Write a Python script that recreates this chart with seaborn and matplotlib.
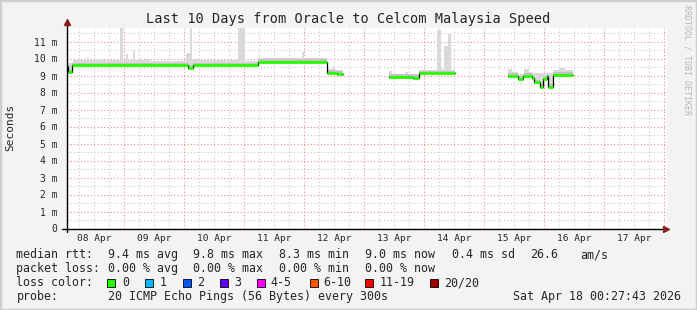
import numpy as np
import pandas as pd
import matplotlib
matplotlib.use("Agg")
import matplotlib.pyplot as plt
import seaborn as sns
from matplotlib.patches import Rectangle

# ---------------- data (time in days since 08 Apr 00:00, values in ms) -------------
seg_a_t = [0.02, 0.07, 0.14, 2.06, 2.145, 3.23, 4.39, 4.545, 4.65]
seg_a_v = [9.55, 9.18, 9.60, 9.47, 9.60, 9.82, 9.16, 9.08, 9.08]
seg_b_t = [5.417, 5.62, 5.70, 5.82, 5.92, 6.51]
seg_b_v = [8.92, 8.93, 8.91, 8.88, 9.13, 9.13]
seg_c_t = [7.395, 7.572, 7.65, 7.806, 7.839, 7.928, 7.983, 8.05, 8.072, 8.15, 8.489]
seg_c_v = [9.00, 8.79, 9.00, 8.85, 8.60, 8.35, 8.80, 8.97, 8.32, 9.03, 9.03]

smoke_a_t = [0.02, 0.145, 0.383, 0.417, 0.6, 0.667, 0.933, 0.983, 1.033, 1.067, 1.142,
             1.175, 1.35, 1.433, 2.033, 2.092, 2.133, 2.267, 2.9, 3.017, 3.233, 3.967,
             4.0, 4.383, 4.483, 4.517, 4.65]
smoke_a_top = [9.75, 9.90, 10.08, 9.92, 9.97, 9.90, 11.9, 9.92, 10.25, 9.92, 10.45,
               9.90, 9.97, 9.88, 10.35, 11.9, 9.97, 9.92, 11.9, 9.88, 10.05, 10.40,
               10.05, 9.38, 9.50, 9.32, 9.32]
smoke_b_t = [5.417, 5.467, 5.683, 5.733, 5.922, 6.1, 6.222, 6.278, 6.338, 6.405, 6.445, 6.51]
smoke_b_top = [9.28, 9.10, 9.22, 9.10, 9.30, 9.35, 11.69, 9.37, 10.76, 11.43, 9.32, 9.32]
smoke_c_t = [7.395, 7.462, 7.572, 7.667, 7.75, 7.817, 8.15, 8.267, 8.35, 8.489]
smoke_c_top = [9.39, 9.22, 9.08, 9.39, 9.22, 9.12, 9.32, 9.47, 9.35, 9.35]

day_labels = ["08 Apr", "09 Apr", "10 Apr", "11 Apr", "12 Apr",
              "13 Apr", "14 Apr", "15 Apr", "16 Apr", "17 Apr"]
y_ticks = list(range(0, 12))
y_labels = ["0"] + [f"{i} m" for i in range(1, 12)]

title = "Last 10 Days from Oracle to Celcom Malaysia Speed"
stats_rtt = ["median rtt:", "9.4 ms avg", "9.8 ms max", "8.3 ms min", "9.0 ms now",
             "0.4 ms sd", "26.6", "am/s"]
stats_loss = ["packet loss:", "0.00 % avg", "0.00 % max", "0.00 % min", "0.00 % now"]
loss_labels = ["0", "1", "2", "3", "4-5", "6-10", "11-19", "20/20"]
loss_colors = ["#26ff00", "#00b8ff", "#0059ff", "#5e00ff", "#ff00ff", "#ff5500",
               "#ff0000", "#a10000"]
probe_text = "20 ICMP Echo Pings (56 Bytes) every 300s"
date_text = "Sat Apr 18 00:27:43 2026"

segments = [(seg_a_t, seg_a_v, smoke_a_t, smoke_a_top),
            (seg_b_t, seg_b_v, smoke_b_t, smoke_b_top),
            (seg_c_t, seg_c_v, smoke_c_t, smoke_c_top)]

# ---------------- figure ----------------
W, H = 697, 310
sns.set_style("white")
plt.rcParams["font.family"] = ["DejaVu Sans Mono"]
fig = plt.figure(figsize=(W / 100, H / 100), dpi=100, facecolor="#f3f3f3")

def fx(x):
    return x / W

def fy(y):
    return 1 - y / H

ax_l, ax_r, ax_t, ax_b = 67, 667, 28, 228.5
ax = fig.add_axes([fx(ax_l), fy(ax_b), fx(ax_r) - fx(ax_l), fy(ax_t) - fy(ax_b)])
ax.set_facecolor("white")
x0, x1 = 0.05, 10.05
y0, y1 = 0, (ax_b - ax_t) / 17.0
ax.set_xlim(x0, x1)
ax.set_ylim(y0, y1)

# grid
dot = (0, (1, 2))
for v in np.arange(0.5, 12, 1.0):
    ax.axhline(v, color="#c8c8c8", lw=0.8, ls=dot, zorder=0)
for v in range(1, 12):
    ax.axhline(v, color="#f08c8c", lw=0.8, ls=dot, zorder=0)
for d in np.arange(0, 10.5, 0.25):
    if abs(d - round(d)) > 1e-6:
        ax.axvline(d, color="#c8c8c8", lw=0.8, ls=dot, zorder=0)
for d in range(1, 11):
    ax.axvline(d, color="#f08c8c", lw=0.8, ls=dot, zorder=0)

# smoke
for t, v, st, top in segments:
    grid = np.array(sorted(set(t) | set(st)))
    iv = np.clip(np.searchsorted(t, grid, side="right") - 1, 0, len(v) - 1)
    it = np.clip(np.searchsorted(st, grid, side="right") - 1, 0, len(top) - 1)
    med = np.array(v)[iv]
    tp = np.array(top)[it]
    ax.fill_between(grid, med - 0.03, np.maximum(tp, med), step="post",
                    color="#d9d9d9", lw=0, zorder=1)
    ax.fill_between(grid, med, np.minimum(np.maximum(tp, med), med + 0.16), step="post",
                    color="#c2c2c2", lw=0, zorder=1)

# median line: black steps + green horizontal pieces
rows = []
for k, (t, v, _, _) in enumerate(segments):
    for ti, vi in zip(t, v):
        rows.append({"seg": k, "t": ti, "v": vi})
df = pd.DataFrame(rows)
sns.lineplot(data=df, x="t", y="v", units="seg", estimator=None, sort=False,
             drawstyle="steps-post", color="black", lw=0.9, ax=ax, legend=False, zorder=3)
for t, v, _, _ in segments:
    ax.hlines(v[:-1], t[:-1], t[1:], color=loss_colors[0], lw=2.0, zorder=4)

# axes / ticks
for s in ax.spines.values():
    s.set_visible(False)
ax.set_yticks(y_ticks)
ax.set_yticklabels(y_labels, fontsize=7.0)
ax.set_xticks([i + 0.5 for i in range(10)])
ax.set_xticklabels(day_labels, fontsize=6.8)
ax.tick_params(axis="y", length=0, pad=7)
ax.tick_params(axis="x", length=0, pad=4)
ax.set_xlabel("")
ax.set_ylabel("")
fig.text(fx(10), fy(127), "Seconds", rotation=90, ha="center", va="center", fontsize=8)

# axis lines with arrows
fig.add_artist(plt.Line2D([fx(62), fx(664)], [fy(ax_b), fy(ax_b)], color="black", lw=1))
fig.add_artist(plt.Line2D([fx(ax_l), fx(ax_l)], [fy(ax_b + 3), fy(24)], color="black", lw=1))
fig.add_artist(plt.Line2D([fx(ax_l)], [fy(21.5)], marker="^", ms=5, color="#8b1a1a", lw=0))
fig.add_artist(plt.Line2D([fx(666)], [fy(ax_b)], marker=">", ms=5, color="#8b1a1a", lw=0))

# title & watermark
fig.text(fx(348), fy(19), title, ha="center", va="center", fontsize=9.8)
fig.text(fx(687), fy(60), "RRDTOOL / TOBI OETIKER", rotation=270, ha="center",
         va="center", fontsize=6, color="#b8b8b8")

# legend block
fs = 8.4
xs_rtt = [16.4, 107.6, 193.3, 279.1, 365.3, 451.6, 530.2, 580.0]
for s, x in zip(stats_rtt, xs_rtt):
    fig.text(fx(x), fy(254.5), s, ha="left", va="center", fontsize=fs)
for s, x in zip(stats_loss, xs_rtt[:5]):
    fig.text(fx(x), fy(268.5), s, ha="left", va="center", fontsize=fs)
fig.text(fx(16.4), fy(282.5), "loss color:", ha="left", va="center", fontsize=fs)
box_x = [107.3, 145.0, 182.7, 220.0, 256.7, 310.0, 365.3, 429.8]
lab_x = [122.7, 159.3, 196.7, 234.0, 270.7, 323.3, 380.0, 444.4]
for c, lab, bx, lx in zip(loss_colors, loss_labels, box_x, lab_x):
    fig.add_artist(Rectangle((fx(bx), fy(286.5)), 8 / W, 8 / H, facecolor=c,
                             edgecolor="black", lw=0.6, transform=fig.transFigure))
    fig.text(fx(lx), fy(282.5), lab, ha="left", va="center", fontsize=fs)
fig.text(fx(16.4), fy(296.5), "probe:", ha="left", va="center", fontsize=fs)
fig.text(fx(107.6), fy(296.5), probe_text, ha="left", va="center", fontsize=fs)
fig.text(fx(681), fy(296.5), date_text, ha="right", va="center", fontsize=fs)

# frame border
fig.add_artist(Rectangle((0, 0), 1, 1, transform=fig.transFigure, fill=False,
                         edgecolor="#cfcfcf", lw=2.5))

fig.savefig("out.png", dpi=100, facecolor=fig.get_facecolor())
